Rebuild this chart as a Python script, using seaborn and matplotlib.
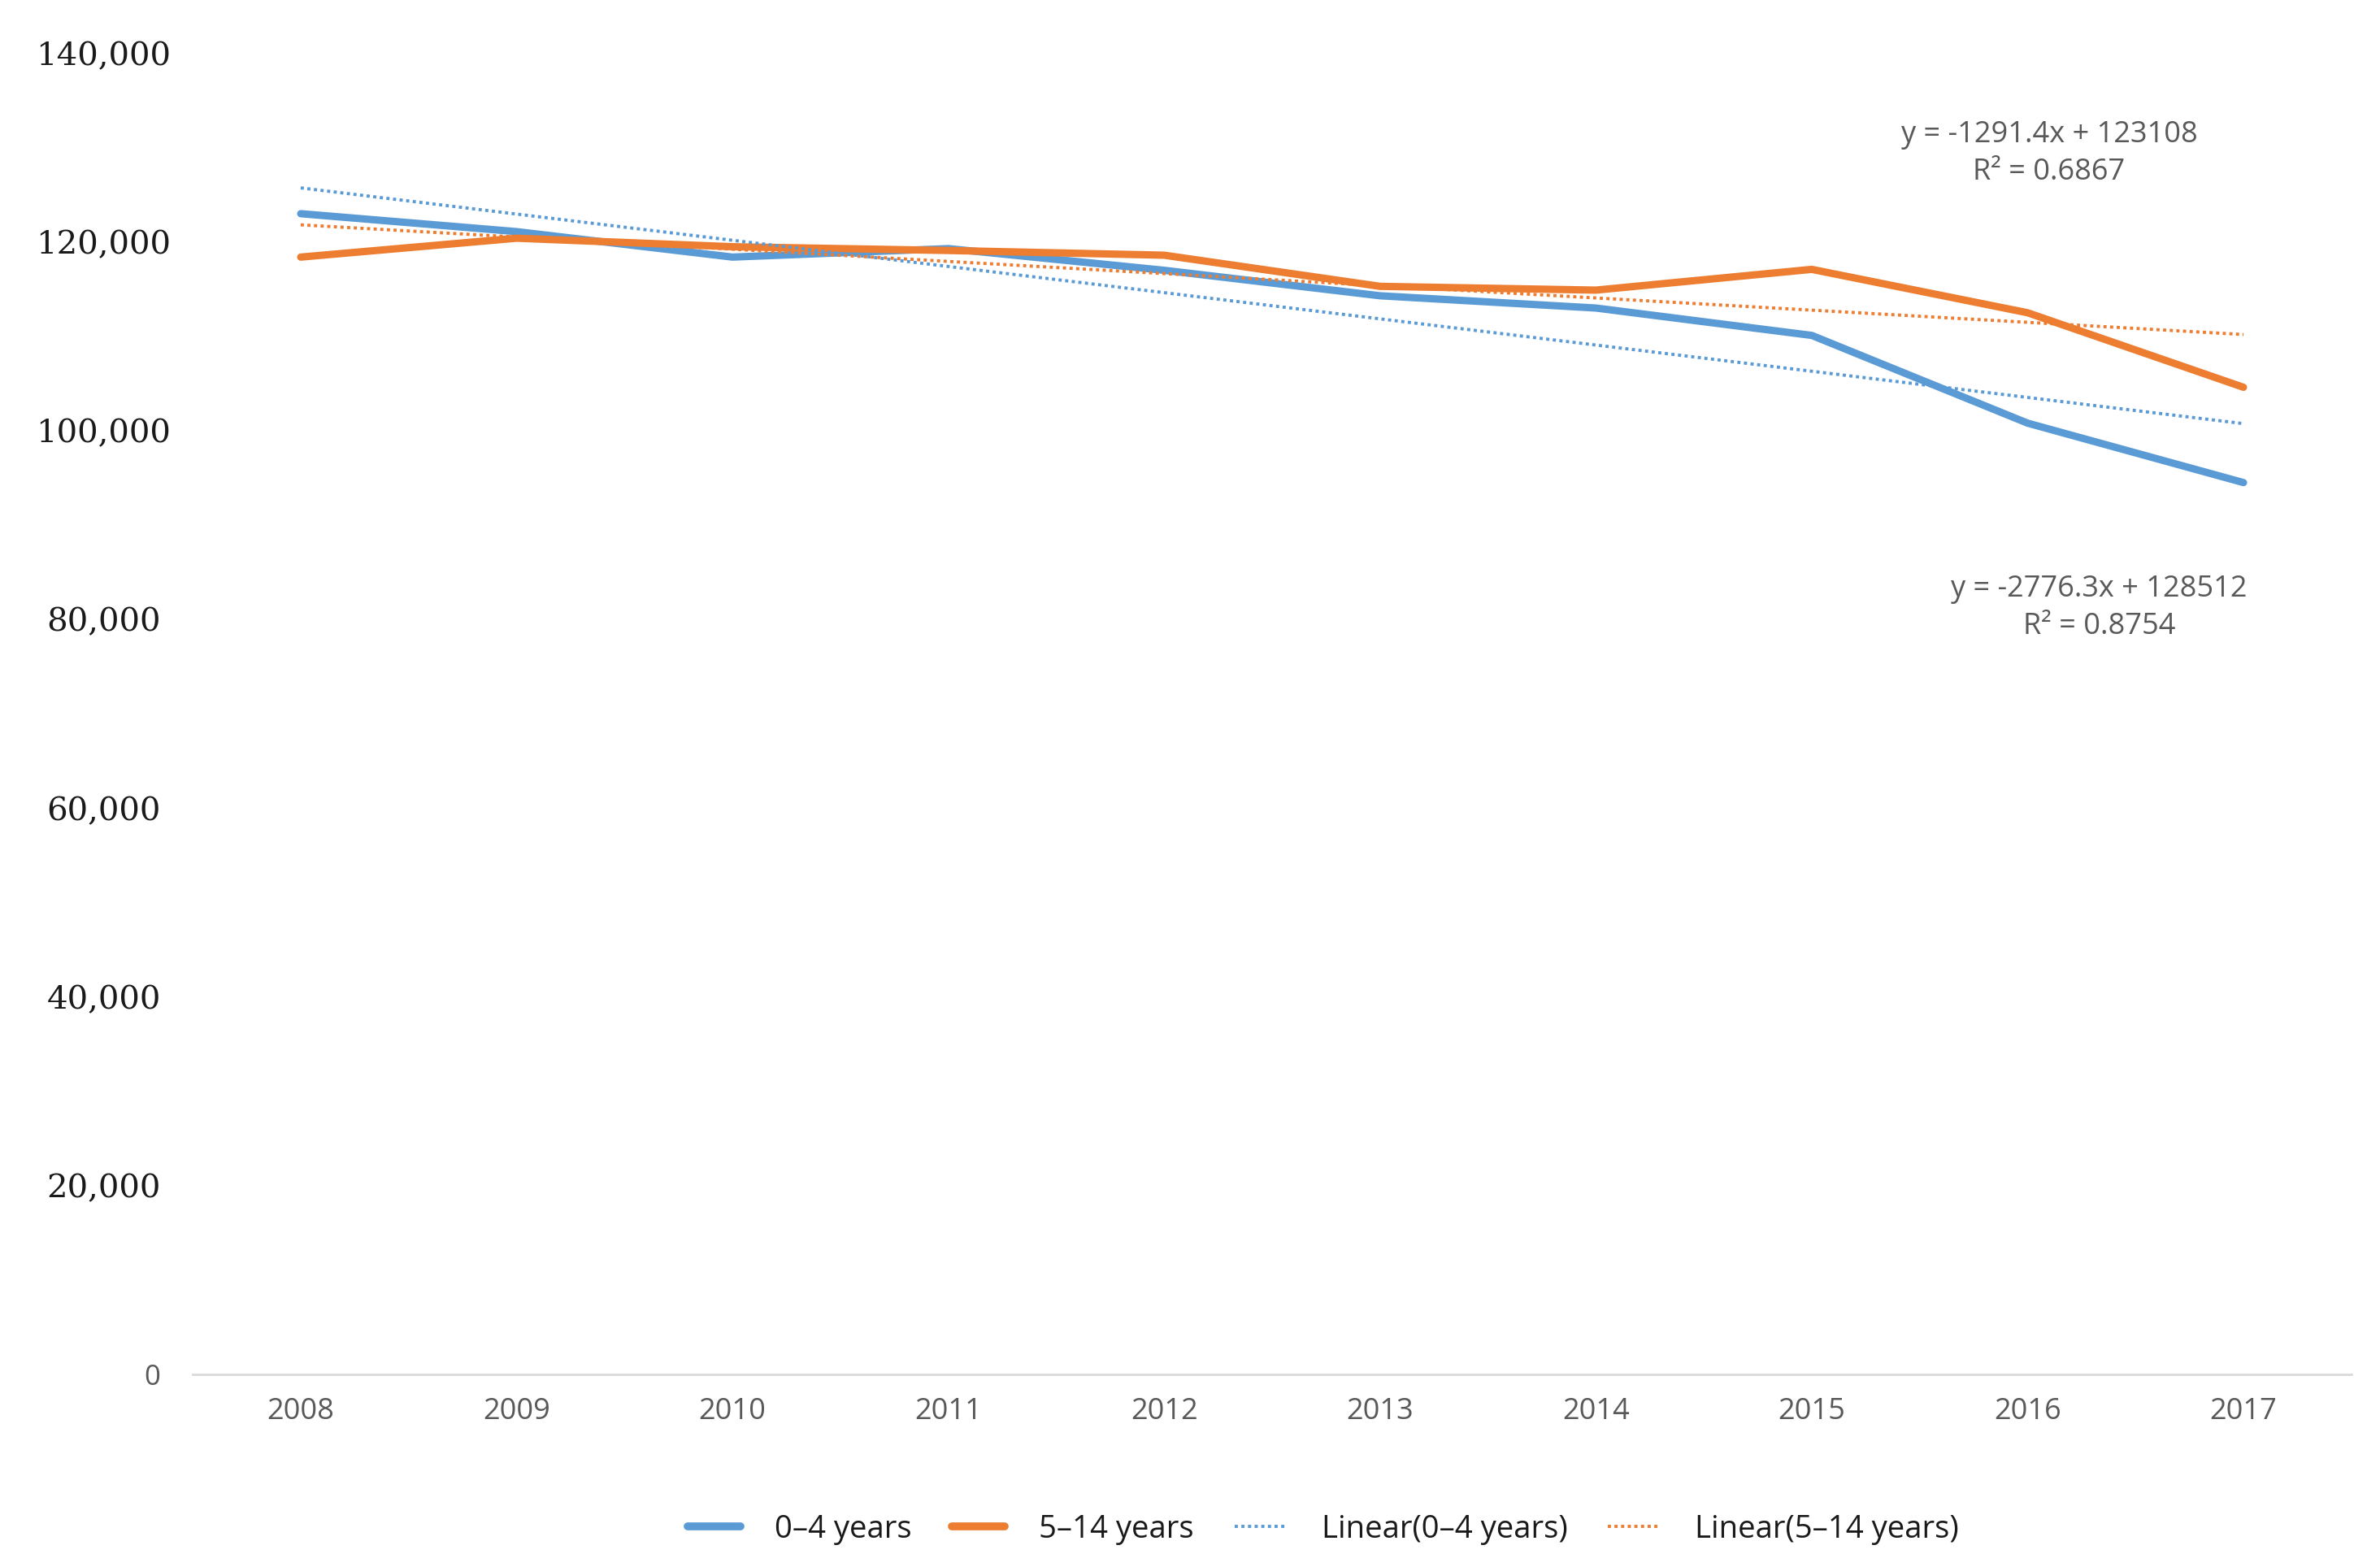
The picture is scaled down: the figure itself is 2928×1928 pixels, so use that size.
import numpy as np
import pandas as pd
import seaborn as sns
import matplotlib.pyplot as plt
from matplotlib.lines import Line2D

# Data
years = [2008, 2009, 2010, 2011, 2012, 2013, 2014, 2015, 2016, 2017]
age_0_4 = [123000, 121100, 118400, 119300, 117000, 114300, 113000, 110100, 100800, 94500]
age_5_14 = [118400, 120400, 119500, 119100, 118600, 115300, 114900, 117100, 112500, 104600]
series_names = ["0\u20134 years", "5\u201314 years"]

# Trend line coefficients as printed on the chart (x = 1..10)
trend_slope = [-2776.3, -1291.4]
trend_intercept = [128512, 123108]
trend_r2 = [0.8754, 0.6867]

ytick_values = [0, 20000, 40000, 60000, 80000, 100000, 120000, 140000]
ytick_labels = ["0", "20,000", "40,000", "60,000", "80,000", "100,000", "120,000", "140,000"]

blue = "#5B9BD5"
orange = "#ED7D31"
gray = "#595959"

df = pd.DataFrame({
    "year": years * 2,
    "value": age_0_4 + age_5_14,
    "group": [series_names[0]] * len(years) + [series_names[1]] * len(years),
})

sns.set_theme(style="white")
plt.rcParams["font.family"] = ["Open Sans", "DejaVu Sans"]

fig = plt.figure(figsize=(29.28, 19.28), dpi=100)
ax = fig.add_axes([0.081, 0.123, 0.907, 0.843])

sns.lineplot(data=df, x="year", y="value", hue="group",
             palette=[blue, orange], linewidth=6.5, ax=ax, legend=False)

# Linear trend lines
t = np.arange(1, len(years) + 1)
for slope, icpt, col in zip(trend_slope, trend_intercept, [blue, orange]):
    ax.plot(years, slope * t + icpt, color=col, linewidth=2.8,
            linestyle=(0, (1, 1.1)))

ax.set_xlim(2007.5, 2017.5)
ax.set_ylim(0, 140000)
ax.set_xticks(years)
ax.set_xticklabels([str(y) for y in years], fontsize=26, color=gray)
ax.set_yticks(ytick_values)
ax.set_yticklabels(ytick_labels)
ax.set_xlabel("")
ax.set_ylabel("")

for s in ["top", "right", "left"]:
    ax.spines[s].set_visible(False)
ax.spines["bottom"].set_color("#D9D9D9")
ax.spines["bottom"].set_linewidth(2)
ax.tick_params(axis="x", length=0, pad=20)
ax.tick_params(axis="y", length=0)

# y tick labels: serif and centred, the zero in grey sans
for tick, lab in zip(ax.yaxis.get_major_ticks(), ytick_labels):
    if lab == "0":
        tick.set_pad(36)
        tick.label1.set_fontfamily(["Open Sans", "DejaVu Sans"])
        tick.label1.set_fontsize(25)
        tick.label1.set_color(gray)
    else:
        tick.set_pad(79)
        tick.label1.set_fontfamily(["DejaVu Serif"])
        tick.label1.set_fontsize(29)
        tick.label1.set_color("#1a1a1a")
    tick.label1.set_horizontalalignment("center")

# trend equations
fig.text(0.861, 0.902,
         "y = -1291.4x + 123108\nR\u00b2 = %.4f" % trend_r2[1],
         ha="center", va="center", fontsize=26, color=gray, linespacing=1.35)
fig.text(0.882, 0.612,
         "y = -2776.3x + 128512\nR\u00b2 = %.4f" % trend_r2[0],
         ha="center", va="center", fontsize=26, color=gray, linespacing=1.35)

handles = [
    Line2D([], [], color=blue, linewidth=7),
    Line2D([], [], color=orange, linewidth=7),
    Line2D([], [], color=blue, linewidth=2.8, linestyle=(0, (1, 1.1))),
    Line2D([], [], color=orange, linewidth=2.8, linestyle=(0, (1, 1.1))),
]
labels = series_names + ["Linear(0\u20134 years)", "Linear(5\u201314 years)"]
fig.legend(handles, labels, loc="center", bbox_to_anchor=(0.556, 0.024),
           ncol=4, frameon=False, fontsize=27.5, handlelength=1.7,
           columnspacing=1.3, handletextpad=1.1, labelcolor="#1a1a1a")

fig.savefig("out.png", dpi=100, facecolor="white")
